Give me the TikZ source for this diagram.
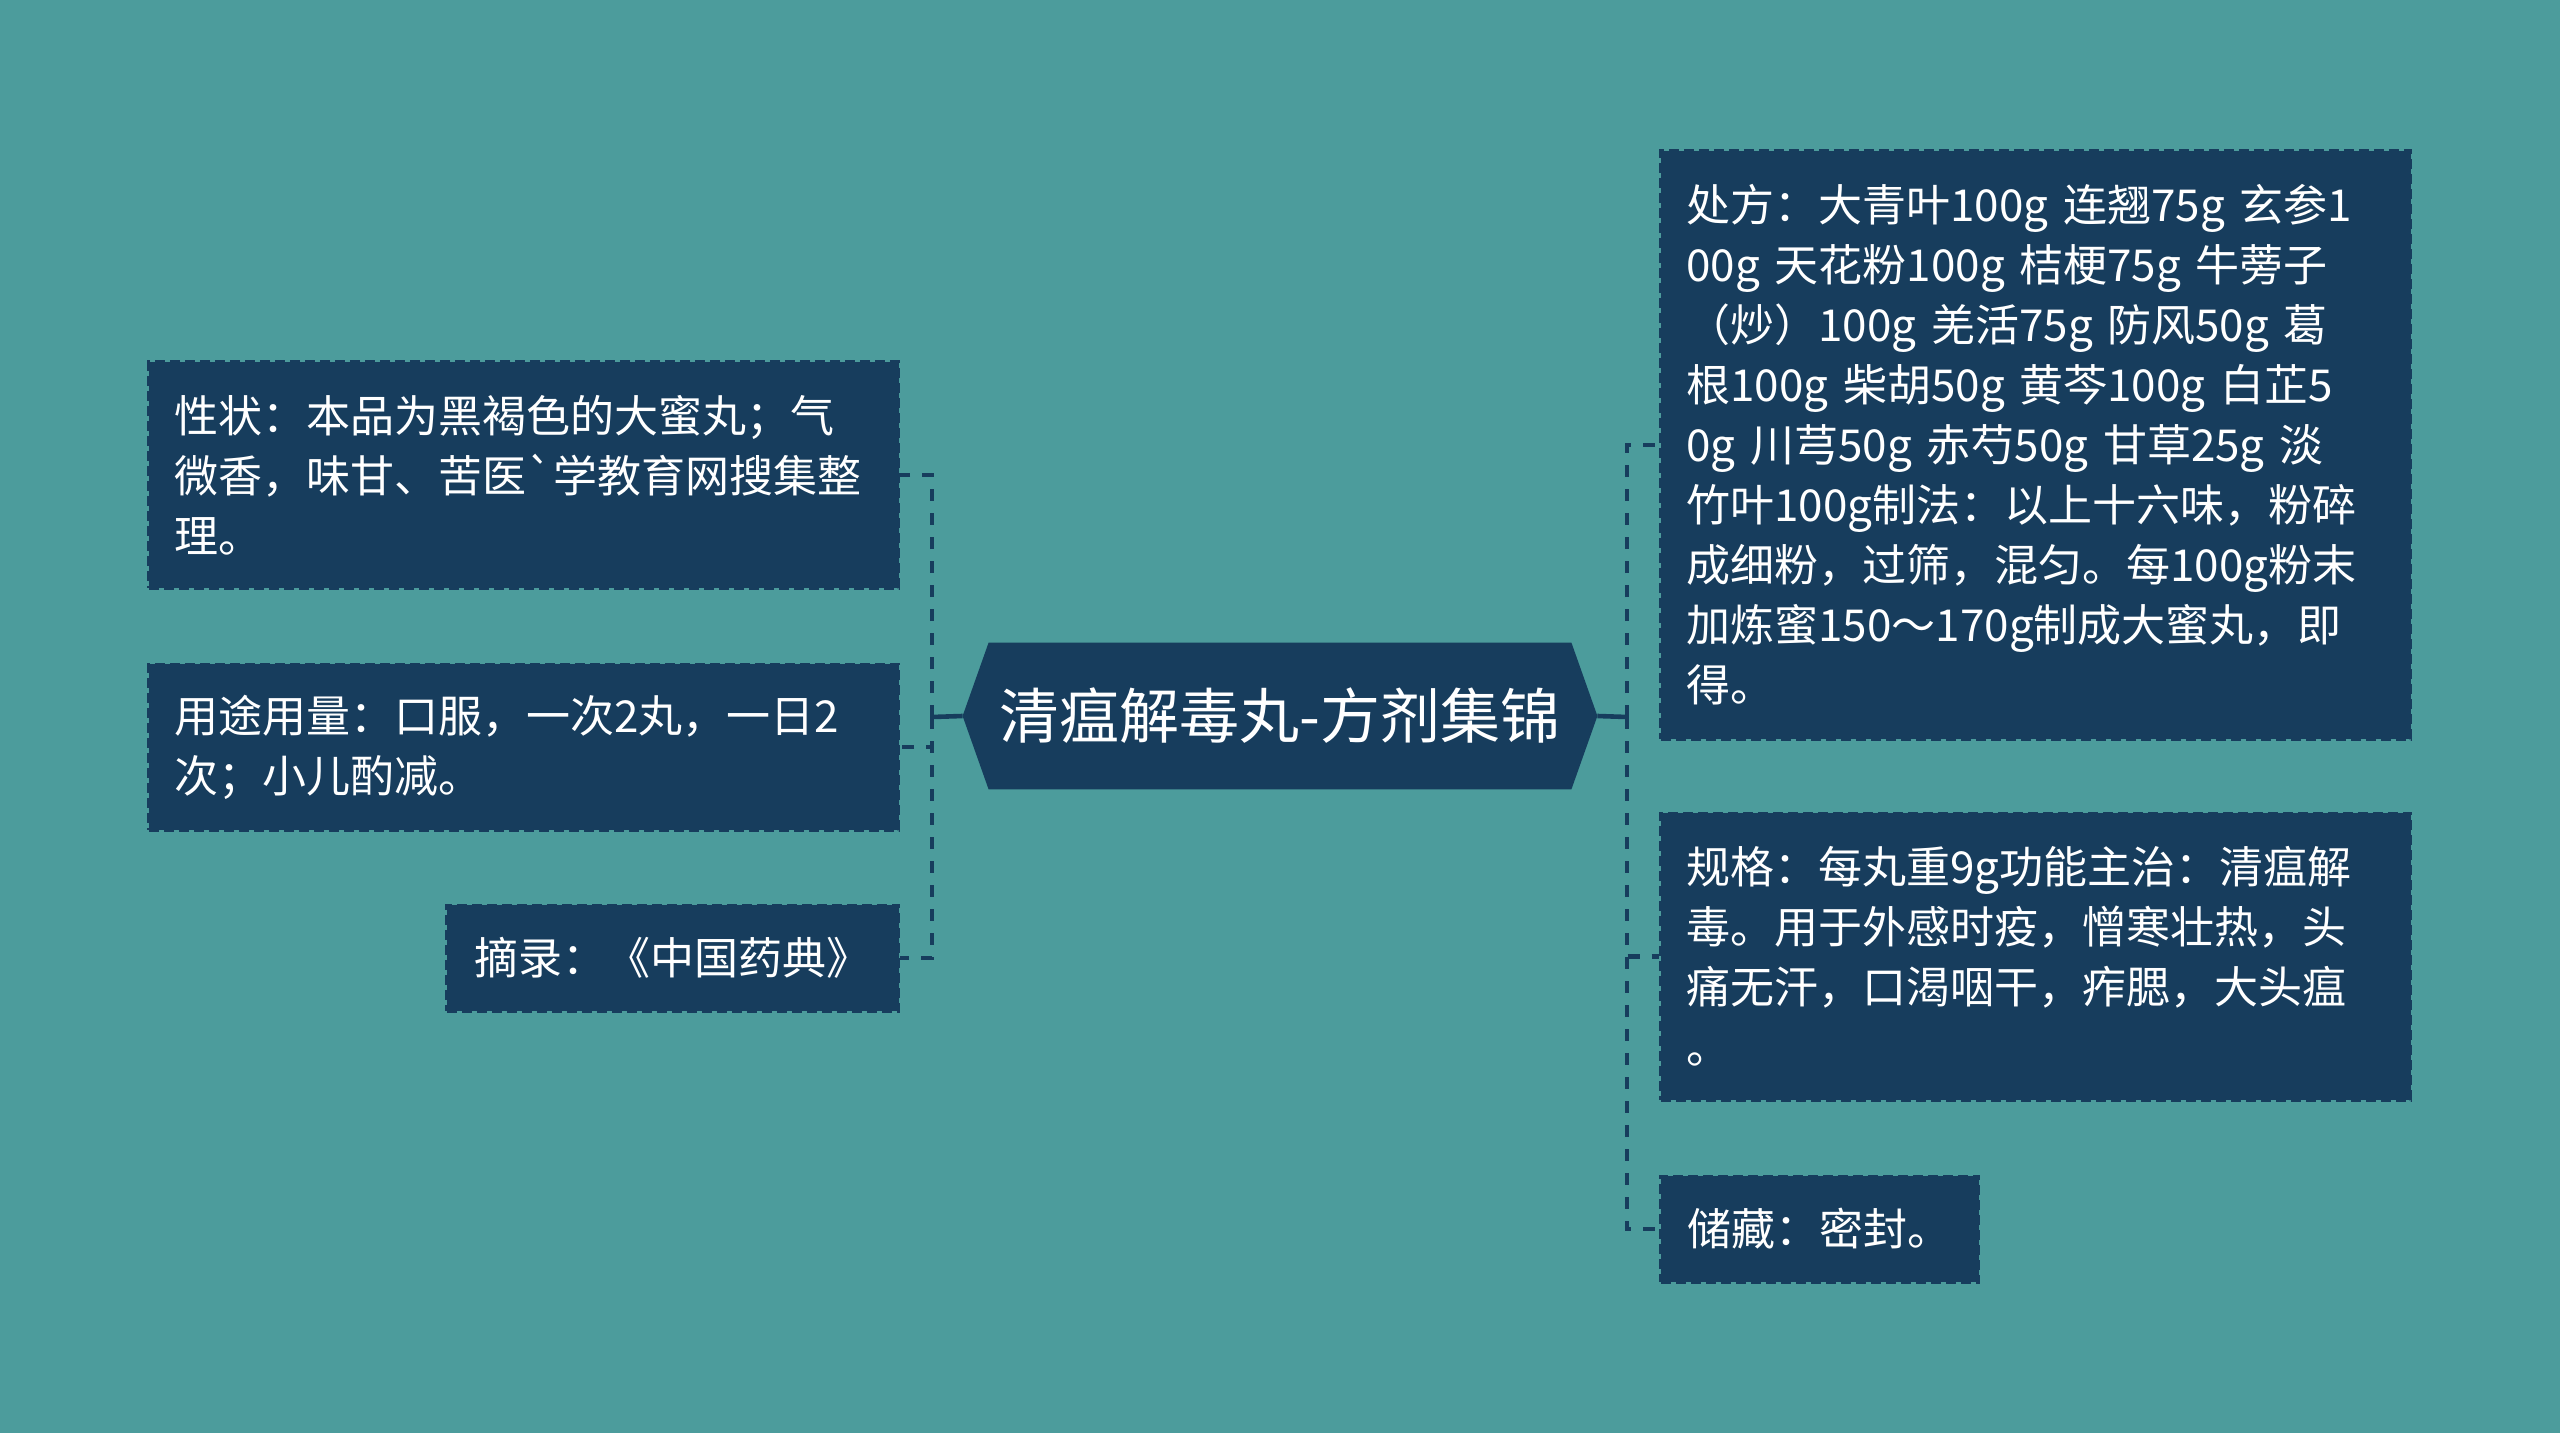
\documentclass[tikz,border=0pt]{standalone}
\usepackage{fontspec}
\newfontfamily\cjk{Noto Sans CJK SC}
\usetikzlibrary{calc,backgrounds}
\definecolor{bgteal}{HTML}{4C9C9C}
\definecolor{navy}{HTML}{173D5D}
\begin{document}
\begin{tikzpicture}[x=0.5pt,y=-0.5pt,
  leaf/.style={fill=navy, draw=navy, line width=1.5pt, dash pattern=on 5pt off 2.5pt,
    text=white, font=\cjk\fontsize{22pt}{30pt}\selectfont,
    inner xsep=13pt, inner ysep=0pt, align=left},
  wideleaf/.style={leaf, text width=349pt},
  trunk/.style={draw=navy, line width=2.3pt},
  branch/.style={trunk, dash pattern=on 6pt off 6pt},
  title/.style={text=white, font=\cjk\fontsize{30pt}{36pt}\selectfont,
    minimum width=317pt, minimum height=73pt, inner sep=0pt}]
\useasboundingbox (0,0) rectangle (2560,1433);

% centre
\node[title] (c) at (1280,716) {清瘟解毒丸-方剂集锦};

% left children
\node[wideleaf, anchor=east, minimum height=113pt] (l1) at (900,475)
  {性状：本品为黑褐色的大蜜丸；气\\微香，味甘、苦医{\char96}学教育网搜集整\\理。};
\node[wideleaf, anchor=east, minimum height=83pt] (l2) at (900,747)
  {用途用量：口服，一次2丸，一日2\\次；小儿酌减。};
\node[leaf, anchor=east, minimum height=53pt, minimum width=226pt] (l3) at (900,958)
  {摘录：《中国药典》};

% right children
\node[wideleaf, anchor=west, minimum height=294pt] (r1) at (1659,445)
  {处方：大青叶100g 连翘75g 玄参1\\00g 天花粉100g 桔梗75g 牛蒡子\\（炒）100g 羌活75g 防风50g 葛\\根100g 柴胡50g 黄芩100g 白芷5\\0g 川芎50g 赤芍50g 甘草25g 淡\\竹叶100g制法：以上十六味，粉碎\\成细粉，过筛，混匀。每100g粉末\\加炼蜜150～170g制成大蜜丸，即\\得。};
\node[wideleaf, anchor=west, minimum height=143.5pt] (r2) at (1659,956.5)
  {规格：每丸重9g功能主治：清瘟解\\毒。用于外感时疫，憎寒壮热，头\\痛无汗，口渴咽干，痄腮，大头瘟\\。};
\node[leaf, anchor=west, minimum height=53pt, minimum width=159pt] (r3) at (1659,1229)
  {储藏：密封。};

\begin{scope}[on background layer]
  \fill[bgteal] (0,0) rectangle (2560,1433);
  \fill[navy] (c.west) -- ($(c.north west)+(26,0)$) -- ($(c.north east)+(-26,0)$)
    -- (c.east) -- ($(c.south east)+(-26,0)$) -- ($(c.south west)+(26,0)$) -- cycle;
\end{scope}

% connectors
\coordinate (lj) at (932,717);
\coordinate (rj) at (1627,717);
\draw[trunk] (c.west) -- (lj);
\draw[trunk] (c.east) -- (rj);
\draw[branch] (lj) |- (l1.east);
\draw[branch] (lj) |- (l2.east);
\draw[branch] (lj) |- (l3.east);
\draw[branch] (rj) |- (r1.west);
\draw[branch] (rj) |- (r2.west);
\draw[branch] (rj) |- (r3.west);
\end{tikzpicture}
\end{document}
